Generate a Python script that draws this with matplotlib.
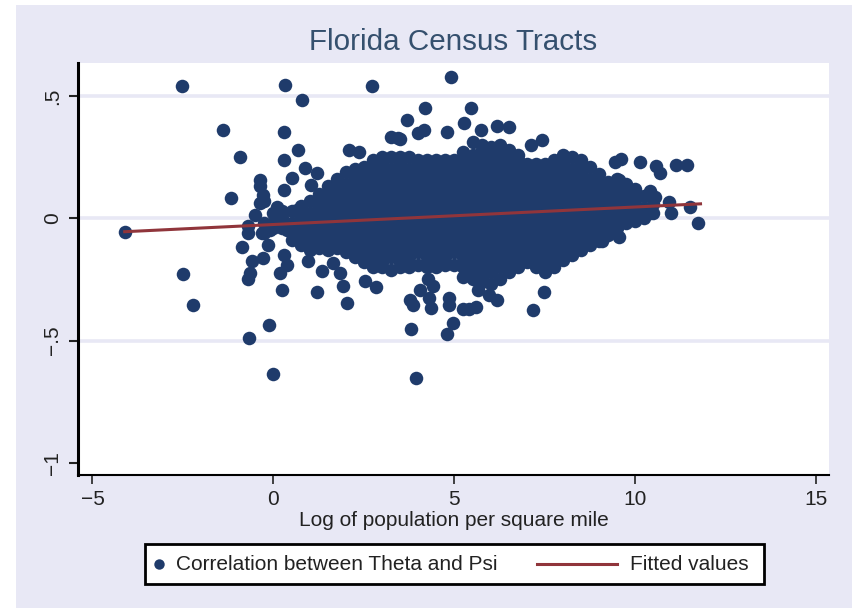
"""Florida census tracts: correlation against log population density."""

import matplotlib.pyplot as plt
from matplotlib.lines import Line2D
from matplotlib.patches import Rectangle

plt.rcParams["font.family"] = ["Liberation Sans", "DejaVu Sans"]

navy = "#1f3b6b"
maroon = "#90353b"
lavender = "#e8e8f5"
ink = "#222222"

# isolated tracts around the main cloud
outlier_x = [-2.54, 0.33, 0.78, 2.73, 4.91, -1.39, 0.28, 4.19, 3.70, -0.92, 0.28, 0.68, -1.17,
             -4.11, -2.49, -2.23, -0.12, -0.68, -0.02, 3.95, 3.81, 2.04, 1.20, 0.24, -0.87,
             -0.69, -0.64, -0.60, -0.28, 0.18, 0.37, 0.28, 2.52, 2.83, 1.93, 1.83, 1.65, 1.33,
             0.96, -0.14, -0.37, -0.37, -0.28, -0.37, -0.50, -0.69, -0.69, -0.32, 0.28, 0.50,
             0.87, 1.19, 1.03, 0.09, 0.64, -0.09, 0.37, 0.09, 2.09, 2.37, 3.26, 3.44, 3.99,
             4.17, 3.76, 3.85, 4.04, 4.27, 4.40, 4.31, 4.36, 5.46, 5.26, 4.80, 3.51, 5.73,
             6.19, 6.51, 7.11, 7.43, 9.45, 9.59, 10.14, 10.57, 10.69, 11.13, 11.44, 9.54,
             10.41, 10.53, 10.94, 11.50, 10.99, 11.74, 9.54, 9.08, 7.48, 7.16, 4.86, 4.86,
             5.41, 5.60, 5.23, 4.95, 4.79, 6.19, 5.96, 5.64, 10.00, 10.41]
outlier_y = [0.54, 0.543, 0.484, 0.542, 0.579, 0.361, 0.354, 0.45, 0.40, 0.25, 0.24, 0.28, 0.082,
             -0.056, -0.228, -0.354, -0.437, -0.489, -0.636, -0.655, -0.452, -0.346, -0.303,
             -0.295, -0.119, -0.25, -0.224, -0.176, -0.163, -0.224, -0.19, -0.15, -0.255, -0.28,
             -0.275, -0.224, -0.183, -0.217, -0.176, -0.108, 0.157, 0.13, 0.096, 0.062, 0.014,
             -0.033, -0.06, -0.06, 0.116, 0.164, 0.205, 0.184, 0.137, 0.048, 0.035, -0.047,
             -0.047, -0.03, 0.28, 0.27, 0.334, 0.327, 0.35, 0.36, -0.333, -0.353, -0.292, -0.25,
             -0.278, -0.326, -0.367, 0.45, 0.39, 0.354, 0.323, 0.361, 0.377, 0.375, 0.30, 0.32,
             0.232, 0.243, 0.232, 0.214, 0.187, 0.218, 0.218, 0.157, 0.112, 0.089, 0.065, 0.048,
             0.021, -0.02, -0.078, -0.095, -0.301, -0.376, -0.326, -0.353, -0.373, -0.363,
             -0.373, -0.428, -0.475, -0.333, -0.312, -0.292, -0.013, 0.02]

cloud_x = [-0.25, 0.00, 0.25, 0.50, 0.75, 1.00, 1.25, 1.50, 1.75, 2.00, 2.25, 2.50, 2.75, 3.00,
           3.25, 3.50, 3.75, 4.00, 4.25, 4.50, 4.75, 5.00, 5.25, 5.50, 5.75, 6.00, 6.25, 6.50,
           6.75, 7.00, 7.25, 7.50, 7.75, 8.00, 8.25, 8.50, 8.75, 9.00, 9.25, 9.50, 9.75, 10.00,
           10.25, 10.50]
cloud_y = [
    [0.07, -0.02, -0.06],
    [0.02, -0.02, -0.04],
    [0.03, 0.00, -0.04],
    [0.03, -0.02, -0.06, -0.09],
    [0.05, 0.04, 0.00, -0.04, -0.08, -0.11],
    [0.07, 0.02, -0.02, -0.06, -0.10, -0.13],
    [0.10, 0.08, 0.04, 0.00, -0.04, -0.08, -0.12],
    [0.13, 0.10, 0.06, 0.02, -0.02, -0.06, -0.10, -0.13],
    [0.16, 0.12, 0.08, 0.04, 0.00, -0.04, -0.08, -0.12],
    [0.19, 0.14, 0.10, 0.06, 0.02, -0.02, -0.06, -0.10, -0.14],
    [0.20, 0.16, 0.12, 0.08, 0.04, 0.00, -0.04, -0.08, -0.12, -0.16],
    [0.21, 0.18, 0.14, 0.10, 0.06, 0.02, -0.02, -0.06, -0.10, -0.14, -0.18],
    [0.24, 0.20, 0.16, 0.12, 0.08, 0.04, 0.00, -0.04, -0.08, -0.12, -0.16, -0.20],
    [0.25, 0.22, 0.18, 0.14, 0.10, 0.06, 0.02, -0.02, -0.06, -0.10, -0.14, -0.18, -0.20],
    [0.25, 0.20, 0.16, 0.12, 0.08, 0.04, 0.00, -0.04, -0.08, -0.12, -0.16, -0.21],
    [0.25, 0.22, 0.18, 0.14, 0.10, 0.06, 0.02, -0.02, -0.06, -0.10, -0.14, -0.18, -0.20],
    [0.25, 0.20, 0.16, 0.12, 0.08, 0.04, 0.00, -0.04, -0.08, -0.12, -0.16, -0.20],
    [0.24, 0.22, 0.18, 0.14, 0.10, 0.06, 0.02, -0.02, -0.06, -0.10, -0.14, -0.19],
    [0.24, 0.20, 0.16, 0.12, 0.08, 0.04, 0.00, -0.04, -0.08, -0.12, -0.16, -0.20],
    [0.24, 0.22, 0.18, 0.14, 0.10, 0.06, 0.02, -0.02, -0.06, -0.10, -0.14, -0.18, -0.20],
    [0.24, 0.20, 0.16, 0.12, 0.08, 0.04, 0.00, -0.04, -0.08, -0.12, -0.16, -0.19],
    [0.24, 0.22, 0.18, 0.14, 0.10, 0.06, 0.02, -0.02, -0.06, -0.10, -0.14, -0.19],
    [0.27, 0.24, 0.20, 0.16, 0.12, 0.08, 0.04, 0.00, -0.04, -0.08, -0.12, -0.16, -0.20, -0.24],
    [0.31, 0.26, 0.22, 0.18, 0.14, 0.10, 0.06, 0.02, -0.02, -0.06, -0.10, -0.14, -0.18, -0.22,
     -0.25],
    [0.30, 0.28, 0.24, 0.20, 0.16, 0.12, 0.08, 0.04, 0.00, -0.04, -0.08, -0.12, -0.16, -0.20,
     -0.24, -0.26],
    [0.29, 0.26, 0.22, 0.18, 0.14, 0.10, 0.06, 0.02, -0.02, -0.06, -0.10, -0.14, -0.18, -0.22,
     -0.27],
    [0.30, 0.28, 0.24, 0.20, 0.16, 0.12, 0.08, 0.04, 0.00, -0.04, -0.08, -0.12, -0.16, -0.20,
     -0.25],
    [0.28, 0.26, 0.22, 0.18, 0.14, 0.10, 0.06, 0.02, -0.02, -0.06, -0.10, -0.14, -0.18, -0.22],
    [0.26, 0.24, 0.20, 0.16, 0.12, 0.08, 0.04, 0.00, -0.04, -0.08, -0.12, -0.16, -0.20],
    [0.22, 0.18, 0.14, 0.10, 0.06, 0.02, -0.02, -0.06, -0.10, -0.14, -0.18],
    [0.22, 0.20, 0.16, 0.12, 0.08, 0.04, 0.00, -0.04, -0.08, -0.12, -0.16, -0.20],
    [0.22, 0.18, 0.14, 0.10, 0.06, 0.02, -0.02, -0.06, -0.10, -0.14, -0.18, -0.22],
    [0.24, 0.20, 0.16, 0.12, 0.08, 0.04, 0.00, -0.04, -0.08, -0.12, -0.16, -0.20],
    [0.26, 0.22, 0.18, 0.14, 0.10, 0.06, 0.02, -0.02, -0.06, -0.10, -0.14, -0.17],
    [0.25, 0.20, 0.16, 0.12, 0.08, 0.04, 0.00, -0.04, -0.08, -0.12, -0.15],
    [0.24, 0.22, 0.18, 0.14, 0.10, 0.06, 0.02, -0.02, -0.06, -0.10, -0.13],
    [0.21, 0.16, 0.12, 0.08, 0.04, 0.00, -0.04, -0.08, -0.11],
    [0.18, 0.14, 0.10, 0.06, 0.02, -0.02, -0.06, -0.095],
    [0.15, 0.12, 0.08, 0.04, 0.00, -0.04, -0.07],
    [0.16, 0.14, 0.10, 0.06, 0.02, -0.02, -0.04],
    [0.14, 0.12, 0.08, 0.04, 0.00, -0.02],
    [0.12, 0.10, 0.06, 0.02, -0.005],
    [0.09, 0.04, 0.00],
    [0.06, 0.02],
]

fit_x = [-4.11, 11.80]
fit_y = [-0.055, 0.059]

x_ticks = [-5, 0, 5, 10, 15]
x_labels = ["−5", "0", "5", "10", "15"]
y_ticks = [-1, -0.5, 0, 0.5]
y_labels = ["−1", "−.5", "0", ".5"]

# flatten the cloud columns into one scatter series
points_x = list(outlier_x)
points_y = list(outlier_y)
for x, column in zip(cloud_x, cloud_y):
    for y in column:
        points_x.append(x)
        points_y.append(y)

fig = plt.figure(figsize=(8.52, 6.08), dpi=100, facecolor=lavender)
fig.add_artist(Rectangle((0, 0), 16 / 852, 1, transform=fig.transFigure, color="white", lw=0))
fig.add_artist(Rectangle((0, 1 - 5 / 608), 1, 5 / 608, transform=fig.transFigure, color="white", lw=0))

ax = fig.add_axes([78 / 852, 1 - 475 / 608, 751 / 852, 412 / 608])
ax.set_xlim(-5.40, 15.35)
ax.set_ylim(-1.05, 0.635)

ax.scatter(points_x, points_y, s=95, color=navy, linewidths=0, zorder=3)
ax.plot(fit_x, fit_y, color=maroon, lw=2.2, zorder=4)

for side in ("top", "right"):
    ax.spines[side].set_visible(False)
ax.spines["left"].set_linewidth(2.2)
ax.spines["bottom"].set_linewidth(1.5)

ax.set_xticks(x_ticks, x_labels)
ax.set_yticks(y_ticks, y_labels)
ax.grid(axis="y", color=lavender, lw=2.6, zorder=1)
ax.get_ygridlines()[0].set_visible(False)
ax.tick_params(axis="x", labelsize=15, length=6.5, width=1.2, pad=4, colors=ink)
ax.tick_params(axis="y", labelsize=15, length=6.5, width=1.5, pad=5, colors=ink)
for label in ax.get_yticklabels():
    label.set_rotation(90)
    label.set_va("center")

ax.set_xlabel("Log of population per square mile", fontsize=15, color=ink, labelpad=2)
fig.text(453 / 852, 1 - 42 / 608, "Florida Census Tracts", fontsize=21.3, color="#35506e",
         ha="center", va="center")

# legend box laid out by hand: the marker sits at the far left of its key
fig.add_artist(Rectangle((145 / 852, 1 - 584 / 608), 619 / 852, 40 / 608,
                         transform=fig.transFigure, facecolor="white", edgecolor="black", lw=2))
fig.add_artist(Line2D([159 / 852], [1 - 564 / 608], transform=fig.transFigure, marker="o",
                      markersize=7.5, color=navy, markeredgewidth=0, linestyle="none"))
fig.add_artist(Line2D([537 / 852, 617 / 852], [1 - 564 / 608, 1 - 564 / 608],
                      transform=fig.transFigure, color=maroon, lw=2.2))
fig.text(176 / 852, 1 - 564 / 608, "Correlation between Theta and Psi", fontsize=15, color=ink,
         ha="left", va="center")
fig.text(630 / 852, 1 - 564 / 608, "Fitted values", fontsize=15, color=ink, ha="left", va="center")

plt.savefig("out.png", dpi=100, facecolor=fig.get_facecolor())
